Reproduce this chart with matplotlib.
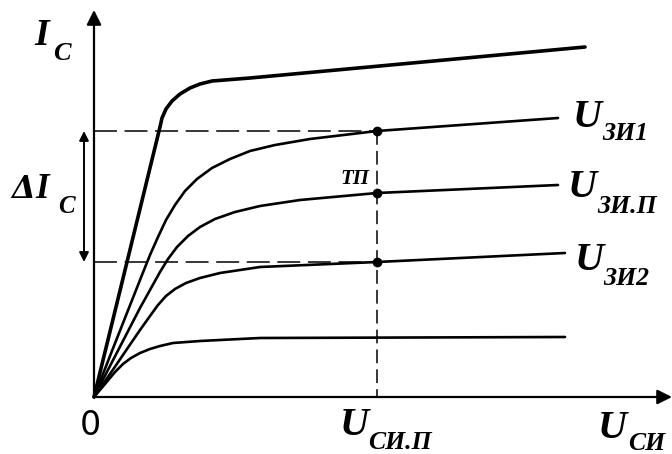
import matplotlib
matplotlib.use('Agg')
import matplotlib.pyplot as plt

# output characteristics of a field-effect transistor (schematic units)
x_top = [0, 66, 68, 72, 78, 86, 96, 106, 118, 156, 491]
y_top = [0, 270, 279, 288, 296, 303, 309, 313, 316, 319, 350]

x_zi1 = [0, 16, 31, 46, 56, 64, 72, 81, 91, 103, 118, 136, 156, 181, 216, 283, 464]
y_zi1 = [0, 41, 79, 117, 142, 160, 177, 192, 206, 218, 229, 238, 246, 252, 258, 266, 279]

x_zip = [0, 16, 31, 46, 56, 66, 74, 83, 94, 106, 121, 141, 166, 206, 283, 464]
y_zip = [0, 31, 60, 89, 107, 125, 138, 150, 161, 170, 178, 185, 191, 197, 204, 212]

x_zi2 = [0, 16, 31, 46, 56, 64, 72, 81, 92, 106, 126, 166, 283, 471]
y_zi2 = [0, 23, 45, 67, 81, 92, 101, 108, 114, 119, 124, 130, 135, 144]

x_low = [0, 11, 21, 29, 37, 46, 56, 66, 79, 106, 166, 471]
y_low = [0, 13, 25, 33, 39, 44, 48, 51, 54, 56, 59, 60]

u_si_p = 283
ic_1 = 266
ic_p = 204
ic_2 = 135

fig = plt.figure(figsize=(6.72, 4.54), dpi=100)
ax = fig.add_axes([0, 0, 1, 1])
ax.set_xlim(-94, 578)
ax.set_ylim(-57, 397)
ax.axis('off')

# axes with arrows
ax.annotate('', xy=(578, 0), xytext=(0, 0),
            arrowprops=dict(arrowstyle='-|>', color='black', lw=1.6, mutation_scale=22, shrinkA=0, shrinkB=0))
ax.annotate('', xy=(0, 387), xytext=(0, 0),
            arrowprops=dict(arrowstyle='-|>', color='black', lw=1.6, mutation_scale=22, shrinkA=0, shrinkB=0))

# curves
ax.plot(x_top, y_top, color='black', lw=2.6, solid_capstyle='round', solid_joinstyle='round')
for xs, ys in [(x_zi1, y_zi1), (x_zip, y_zip), (x_zi2, y_zi2), (x_low, y_low)]:
    ax.plot(xs, ys, color='black', lw=1.9, solid_capstyle='round', solid_joinstyle='round')

# dashed guide lines
ax.plot([0, u_si_p], [ic_1, ic_1], color='black', lw=1.1, linestyle=(0, (15, 5)))
ax.plot([0, u_si_p], [ic_2, ic_2], color='black', lw=1.1, linestyle=(0, (15, 5)))
ax.plot([u_si_p, u_si_p], [ic_1, 0], color='black', lw=1.1, linestyle=(0, (9, 4)))

ax.plot([u_si_p] * 3, [ic_1, ic_p, ic_2], 'o', color='black', markersize=6)

# delta I arrow
ax.annotate('', xy=(-10, ic_1), xytext=(-10, ic_2),
            arrowprops=dict(arrowstyle='<|-|>', color='black', lw=1.4, mutation_scale=14, shrinkA=0, shrinkB=0))

serif = dict(family='Liberation Serif', weight='bold', style='italic', color='black')

def label(x, y, main, sub, size_main, size_sub, dx, dy):
    ax.text(x, y, main, fontsize=size_main, ha='left', va='baseline', **serif)
    ax.text(x + dx, y - dy, sub, fontsize=size_sub, ha='left', va='baseline', **serif)

label(-60, 352, 'I', 'C', 27, 19, 19, 15)
ax.text(-83, 199, 'Δ', fontsize=22, ha='left', va='baseline',
        family='DejaVu Serif', weight='bold', style='italic', color='black')
label(-59, 199, 'I', 'C', 25, 18, 23, 15)
label(479, 270, 'U', 'ЗИ1', 29, 18.5, 29, 13)
label(474, 200, 'U', 'ЗИ.П', 29, 18.5, 29, 16)
label(481, 127, 'U', 'ЗИ2', 29, 18.5, 28, 15)
label(246, -38, 'U', 'СИ.П', 29, 18.5, 28, 14)
label(504, -41, 'U', 'СИ', 29, 18.5, 30, 12)

ax.text(u_si_p - 8, ic_p + 9, 'ТП', fontsize=15, ha='right', va='baseline', **serif)
ax.text(-4, -38, '0', fontsize=24, ha='center', va='baseline', family='DejaVu Sans', color='black')

fig.savefig('out.png', dpi=100)
